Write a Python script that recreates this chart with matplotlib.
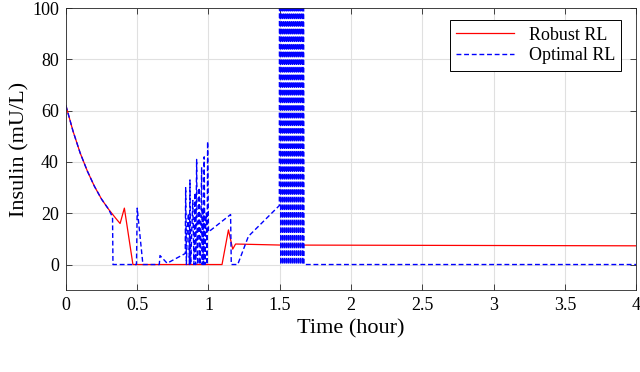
import matplotlib
matplotlib.use("Agg")
import matplotlib.pyplot as plt

plt.rcParams['font.family'] = ['Liberation Serif', 'DejaVu Serif']
plt.rcParams['mathtext.fontset'] = 'stix'

# Robust RL (red, solid)
t_robust = [0, 0.05, 0.10, 0.15, 0.20, 0.25, 0.30, 0.35, 0.38, 0.41, 0.47,
            1.095, 1.14, 1.17, 1.19, 1.50, 4.0]
y_robust = [62, 52, 43.5, 36.5, 30.5, 25.5, 21.5, 18, 16, 22, 0,
            0, 13.5, 6, 8, 7.6, 7.3]

# Optimal RL (blue, dashed)
t_optimal = [0, 0.05, 0.10, 0.15, 0.20, 0.25, 0.30, 0.327, 0.33,
             0.495, 0.50, 0.54, 0.655, 0.66, 0.71, 0.837,
             0.840, 0.845, 0.852, 0.860, 0.866, 0.870, 0.875, 0.882, 0.890,
             0.898, 0.905, 0.910, 0.917, 0.921, 0.925, 0.930, 0.935, 0.940,
             0.945, 0.952, 0.956, 0.960, 0.965, 0.970, 0.975, 0.980,
             0.985, 0.990, 0.994, 1.0,
             1.155, 1.16, 1.205, 1.28, 1.497,
             1.499, 1.507, 1.514, 1.521, 1.528, 1.535, 1.542, 1.549,
             1.556, 1.563, 1.570, 1.577, 1.584, 1.591, 1.598, 1.605,
             1.612, 1.619, 1.626, 1.633, 1.640, 1.647, 1.654, 1.661, 1.665,
             1.67, 4.0]
y_optimal = [62, 52, 43.5, 36.5, 30.5, 25.5, 21.5, 18.5, 0,
             0, 22, 0, 0, 3.5, 0.5, 4.3,
             30, 0, 15, 20, 0, 33, 0, 12, 25,
             0, 28, 0, 41, 5, 0, 18, 30, 0,
             10, 38, 0, 22, 0, 42, 0, 15,
             20, 0, 48, 12.7,
             19.5, 0, 0, 11, 23,
             200, 0, 200, 0, 200, 0, 200, 0,
             200, 0, 200, 0, 200, 0, 200, 0,
             200, 0, 200, 0, 200, 0, 200, 0, 200,
             0, 0]

xticks = [0, 0.5, 1, 1.5, 2, 2.5, 3, 3.5, 4]
xtick_labels = ['0', '0.5', '1', '1.5', '2', '2.5', '3', '3.5', '4']
yticks = [0, 20, 40, 60, 80, 100]

fig = plt.figure(figsize=(6.4, 3.72), dpi=100)
ax = fig.add_axes([0.103, 0.22, 0.891, 0.758])

ax.plot(t_robust, y_robust, color='#ff0000', lw=0.9, label='Robust RL')
ax.plot(t_optimal, y_optimal, color='#0000ff', lw=1.0, ls=(0, (3.5, 2)),
        label='Optimal RL')

ax.set_xlim(0, 4)
ax.set_ylim(-10, 100)
ax.set_xticks(xticks)
ax.set_xticklabels(xtick_labels)
ax.set_yticks(yticks)
ax.grid(True, color='#e0e0e0', lw=0.8)
ax.set_axisbelow(True)
ax.tick_params(direction='in', top=True, right=True, labelsize=13,
               length=4, width=0.6, colors='#262626', labelcolor='black',
               pad=5)
for s in ax.spines.values():
    s.set_linewidth(0.6)
    s.set_color('#262626')

ax.set_xlabel('Time (hour)', fontsize=16, labelpad=4)
ax.set_ylabel('Insulin (mU/L)', fontsize=16, labelpad=2)

leg = ax.legend(loc='upper right', fontsize=13, fancybox=False,
                edgecolor='black', framealpha=1, handlelength=3.2,
                borderpad=0.35, labelspacing=0.2, borderaxespad=0,
                bbox_to_anchor=(0.974, 0.957))
leg.get_frame().set_linewidth(0.7)

fig.savefig('out.png', dpi=100)
